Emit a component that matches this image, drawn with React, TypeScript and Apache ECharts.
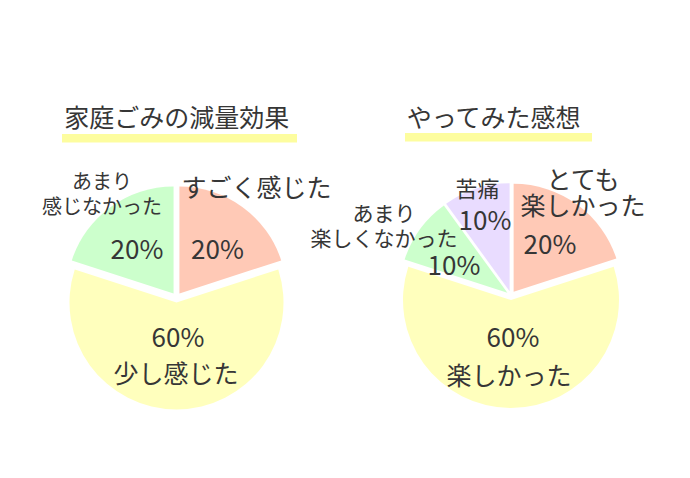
import React, { useEffect, useRef } from 'react'
import * as echarts from 'echarts'

// left pie
const leftTitle = '家庭ごみの減量効果'
const leftNames = ['すごく感じた', '少し感じた', 'あまり\n感じなかった']
const leftValues = [20, 60, 20]

// right pie
const rightTitle = 'やってみた感想'
const rightNames = ['とても\n楽しかった', '楽しかった', 'あまり\n楽しくなかった', '苦痛']
const rightValues = [20, 60, 10, 10]

const sliceColors = ['#ffc9b6', '#ffffbd', '#ccffcc', '#e9dcff']
const textColor = '#363636'
const font = '"Noto Sans CJK JP", "Noto Sans CJK SC", sans-serif'

// label anchor points (layout only)
const leftNamePos = [[256.5, 186], [176, 372], [102, 193]]
const leftNameSize = [25, 25, 20]
const leftLineHeight = [26, 26, 25]
const leftPctPos = [[217.5, 247], [178, 335], [137, 247]]

const rightNamePos = [[583, 190.5], [509, 373.5], [384, 224.5], [477.5, 187]]
const rightNameSize = [25, 25, 21, 22]
const rightLineHeight = [26, 26, 25, 26]
const rightPctPos = [[550, 242], [513, 335], [454, 263.5], [485, 218.5]]

const buildPie = (
  names: string[],
  values: number[],
  center: number[],
  radius: number,
  offset: number
) => ({
  type: 'pie',
  center,
  radius,
  startAngle: 90,
  clockwise: true,
  selectedMode: 'multiple',
  selectedOffset: offset,
  silent: true,
  label: { show: false },
  labelLine: { show: false },
  emphasis: { disabled: true },
  data: names.map((n, i) => ({
    name: n,
    value: values[i],
    selected: true,
    itemStyle: { color: sliceColors[i] },
  })),
})

const buildLabels = (
  names: string[],
  values: number[],
  namePos: number[][],
  nameSize: number[],
  lineHeight: number[],
  pctPos: number[][]
) => {
  const total = values.reduce((a, b) => a + b, 0)
  const out: any[] = []
  names.forEach((n, i) => {
    out.push({
      type: 'text',
      x: namePos[i][0],
      y: namePos[i][1],
      z: 10,
      style: {
        text: n,
        fill: textColor,
        font: `${nameSize[i]}px ${font}`,
        lineHeight: lineHeight[i],
        textAlign: 'center',
        textVerticalAlign: 'middle',
      },
    })
    out.push({
      type: 'text',
      x: pctPos[i][0],
      y: pctPos[i][1],
      z: 10,
      style: {
        text: Math.round((values[i] / total) * 100) + '%',
        fill: textColor,
        font: `26px ${font}`,
        textAlign: 'center',
        textVerticalAlign: 'middle',
      },
    })
  })
  return out
}

const App = () => {
  const chartRef = useRef<HTMLDivElement | null>(null)

  useEffect(() => {
    if (!chartRef.current) return
    const myChart = echarts.init(chartRef.current, null, { renderer: 'svg' })

    const option = {
      animation: false,
      backgroundColor: '#ffffff',
      graphic: [
        { type: 'rect', shape: { x: 62, y: 134, width: 235, height: 8.5 }, style: { fill: '#fdfd9f' } },
        { type: 'rect', shape: { x: 405, y: 133, width: 187, height: 8.5 }, style: { fill: '#fdfd9f' } },
        {
          type: 'text',
          x: 176.7,
          y: 116,
          style: { text: leftTitle, fill: textColor, font: `25px ${font}`, textAlign: 'center', textVerticalAlign: 'middle' },
        },
        {
          type: 'text',
          x: 493.7,
          y: 116,
          style: { text: rightTitle, fill: textColor, font: `25px ${font}`, textAlign: 'center', textVerticalAlign: 'middle' },
        },
        ...buildLabels(leftNames, leftValues, leftNamePos, leftNameSize, leftLineHeight, leftPctPos),
        ...buildLabels(rightNames, rightValues, rightNamePos, rightNameSize, rightLineHeight, rightPctPos),
      ],
      series: [
        buildPie(leftNames, leftValues, [176.5, 297.5], 107, 5),
        buildPie(rightNames, rightValues, [511, 295.5], 108, 4.5),
      ],
    }

    myChart.setOption(option as any)

    return () => {
      myChart.dispose()
    }
  }, [])

  return (
    <div
      ref={chartRef}
      style={{ position: 'absolute', left: 0, top: 0, width: 690, height: 478 }}
    />
  )
}

export default App
